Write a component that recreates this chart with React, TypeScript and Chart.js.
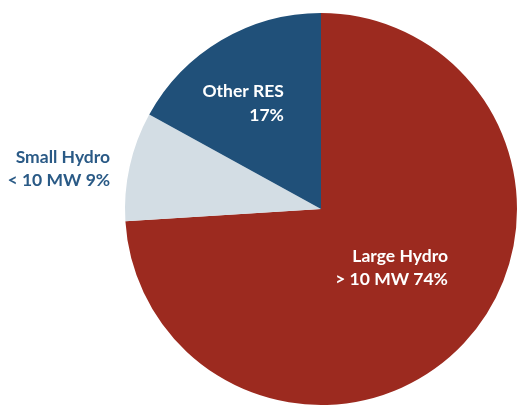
import React, { useEffect, useRef } from "react";
import { Chart, registerables } from "chart.js";

Chart.register(...registerables);

const categories = ["Large Hydro", "Small Hydro", "Other RES"];
const labelLines = [
  ["Large Hydro", "> 10 MW 74%"],
  ["Small Hydro", "< 10 MW 9%"],
  ["Other RES", "17%"],
];
const shares = [74, 9, 17];
const sliceColors = ["#9c2a1f", "#d3dde4", "#205079"];
const labelColors = ["#ffffff", "#2a5a86", "#ffffff"];

// label anchor (right edge, vertical middle of block) relative to each arc:
// radius factor and angle offset (deg) from the arc's mid angle
const labelRadiusFactor = [0.713, 1.096, 0.575];
const labelAngleOffset = [-18.5, -1.6, 11.4];

const FONT_SIZE = 17.5;
const LINE_H = 23.5;
const FONT = `bold ${FONT_SIZE}px Lato, "Liberation Sans Narrow", sans-serif`;

const labelPlugin = {
  id: "sliceLabels",
  afterDatasetsDraw(chart: any) {
    const ctx = chart.ctx;
    const meta = chart.getDatasetMeta(0);
    ctx.save();
    ctx.font = FONT;
    meta.data.forEach((arc: any, i: number) => {
      const p = arc.getProps(["x", "y", "startAngle", "endAngle", "outerRadius"], true);
      const mid = (p.startAngle + p.endAngle) / 2 + (labelAngleOffset[i] * Math.PI) / 180;
      const r = p.outerRadius * labelRadiusFactor[i];
      const rightX = p.x + Math.cos(mid) * r;
      const cy = p.y + Math.sin(mid) * r;
      const lines = labelLines[i];
      const capH = FONT_SIZE * 0.72;
      const blockH = (lines.length - 1) * LINE_H + capH;
      let baseY = cy - blockH / 2 + capH;
      ctx.fillStyle = labelColors[i];
      ctx.textAlign = "right";
      ctx.textBaseline = "alphabetic";
      lines.forEach((l) => {
        ctx.fillText(l, rightX, baseY);
        baseY += LINE_H;
      });
    });
    ctx.restore();
  },
};

export default function App() {
  const ref = useRef<HTMLCanvasElement | null>(null);
  useEffect(() => {
    if (!ref.current) return;
    const chart = new Chart(ref.current, {
      type: "pie",
      data: {
        labels: categories,
        datasets: [
          {
            data: shares,
            backgroundColor: sliceColors,
            borderWidth: 0,
          },
        ],
      },
      options: {
        responsive: false,
        animation: false,
        devicePixelRatio: 1,
        layout: { padding: { left: 125, top: 13, right: 0, bottom: 1 } },
        plugins: {
          legend: { display: false },
          tooltip: { enabled: false },
        },
      },
      plugins: [labelPlugin],
    });
    return () => chart.destroy();
  }, []);
  return (
    <div style={{ position: "fixed", left: 0, top: 0, width: 517, height: 406, background: "#fff" }}>
      <canvas ref={ref} width={517} height={406} style={{ display: "block" }} />
    </div>
  );
}
